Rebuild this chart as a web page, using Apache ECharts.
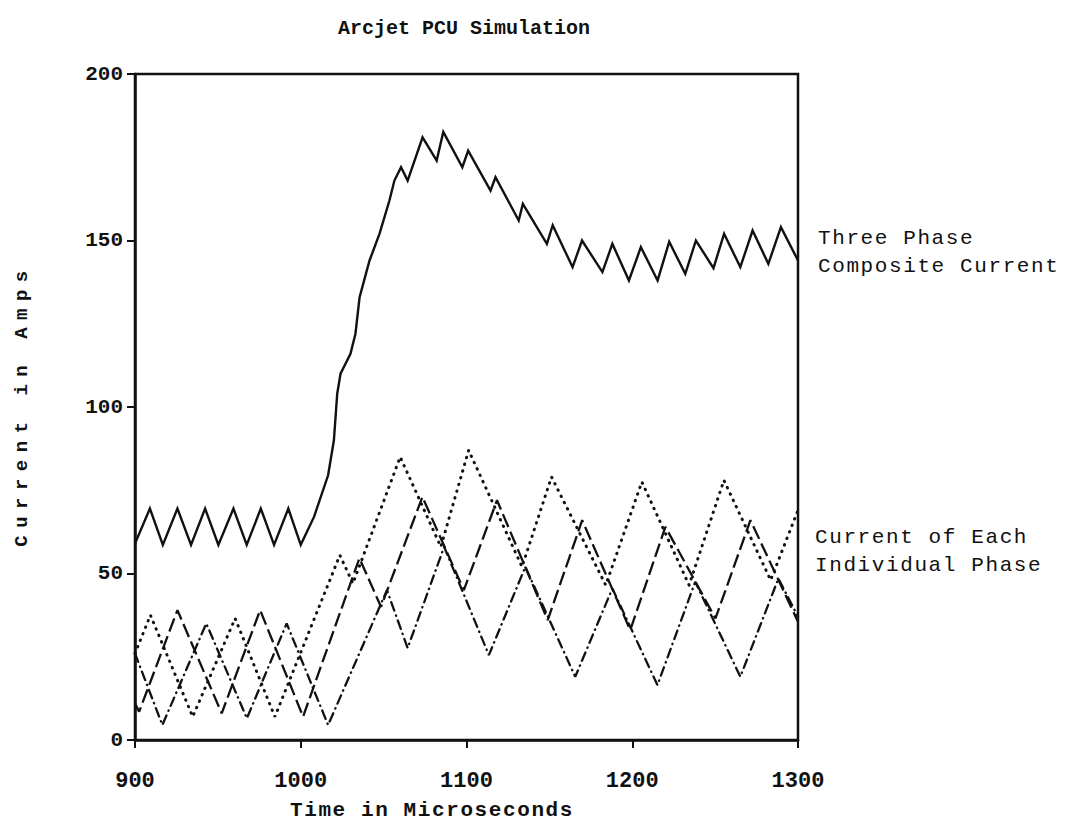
<!DOCTYPE html>
<html><head><meta charset="utf-8">
<script src="https://cdn.jsdelivr.net/npm/echarts@6/dist/echarts.min.js"></script>
<style>html,body{margin:0;padding:0;background:#fff}#main{width:1078px;height:832px}</style>
</head><body><div id="main"></div>
<script>
const chartTitle = 'Arcjet PCU Simulation';
const xAxisTitle = 'Time in Microseconds';
const yAxisTitle = 'Current in Amps';
const compositeLabel = ['Three Phase', 'Composite Current'];
const phaseLabel = ['Current of Each', 'Individual Phase'];
const xTicks = [900, 1000, 1100, 1200, 1300];
const yTicks = [0, 50, 100, 150, 200];

const compositeTime = [900,909,916.8,925.6,933.8,942.3,950.3,959.4,967.4,975.9,983.9,992.5,1000,1008,1016.5,1020,1022,1024,1030,1033,1035.5,1041.5,1047.5,1053.5,1056.5,1060.5,1064.5,1073.5,1082,1086,1097.5,1101,1114.5,1117.5,1131.5,1134,1148.5,1152,1164,1169.7,1182,1188,1198,1205.2,1215.3,1222.3,1232,1238.4,1249,1255.4,1265.2,1272.6,1282.1,1289.7,1300];
const compositeAmps = [59,69.5,58.6,69.5,58.6,69.5,58.6,69.5,58.6,69.5,58.6,69.5,58.6,67,79.5,90,104,110,116,122,133,144,152,162,168,172,168,181,174,182.6,172,177,165,169,156,161,149,154.6,142,150,140.5,149,138,148,138,149.6,140,150,141.7,152,142,153,143,154,144];

const phaseATime = [900,909.3,934.8,960.4,984.4,1023.6,1031.5,1060,1084.5,1101.3,1133.5,1151.3,1184,1205.8,1234.3,1255.3,1283.5,1300];
const phaseAAmps = [26,37.5,7,36.5,7,55.5,47,85,58,87,52,79,46.5,77.5,46.5,78,48,69];

const phaseBTime = [900,902.5,925.6,952.3,975.5,1001.4,1035.4,1048.4,1073.4,1098.4,1118.4,1149,1169.8,1198.8,1220,1250.2,1271.3,1300];
const phaseBAmps = [11,8.5,39,8,39,7,54.6,40,73,45,72,36,66,33,64,36.5,66,35.5];

const phaseCTime = [900,916.5,943,967.5,991.5,1016.5,1052,1064.5,1086.5,1113.5,1135.5,1165.6,1188,1215.2,1238,1265.2,1288.2,1300];
const phaseCAmps = [26,4.5,35,6.5,35,4.5,45,27.6,58,25.5,52,19,45.5,16.5,47.5,19,48.5,37];

const zip = (t, v) => t.map((x, i) => [x, v[i]]);
const INK = '#111';
const MONO = '"Liberation Mono", "DejaVu Sans Mono", monospace';

const chart = echarts.init(document.getElementById('main'), null, {renderer: 'svg'});
chart.setOption({
  animation: false,
  backgroundColor: '#fff',
  grid: {left: 135, right: 280, top: 74, bottom: 92, show: true, borderColor: INK, borderWidth: 2.5, backgroundColor: 'transparent'},
  xAxis: {
    type: 'value', min: xTicks[0], max: xTicks[xTicks.length - 1], interval: xTicks[1] - xTicks[0],
    axisLine: {show: true, onZero: false, lineStyle: {color: INK, width: 2.5}},
    axisTick: {show: true, inside: false, length: 8, lineStyle: {color: INK, width: 2}},
    axisLabel: {color: INK, fontFamily: MONO, fontSize: 22, fontWeight: 'bold', margin: 30, formatter: v => String(v)},
    splitLine: {show: false}
  },
  yAxis: {
    type: 'value', min: yTicks[0], max: yTicks[yTicks.length - 1], interval: yTicks[1] - yTicks[0],
    axisLine: {show: true, lineStyle: {color: INK, width: 2.5}},
    axisTick: {show: true, inside: false, length: 8, lineStyle: {color: INK, width: 2}},
    axisLabel: {color: INK, fontFamily: MONO, fontSize: 21, fontWeight: 'bold', margin: 12, formatter: v => String(v)},
    splitLine: {show: false}
  },
  series: [
    {type: 'line', data: zip(compositeTime, compositeAmps), symbol: 'none', z: 5,
     lineStyle: {color: INK, width: 2.4, type: 'solid', join: 'miter'}},
    {type: 'line', data: zip(phaseATime, phaseAAmps), symbol: 'none', z: 4,
     lineStyle: {color: INK, width: 3, type: [0.5, 6.5], cap: 'round'}},
    {type: 'line', data: zip(phaseBTime, phaseBAmps), symbol: 'none', z: 4,
     lineStyle: {color: INK, width: 2.3, type: [14, 5]}},
    {type: 'line', data: zip(phaseCTime, phaseCAmps), symbol: 'none', z: 4,
     lineStyle: {color: INK, width: 2.3, type: [9, 5, 0.5, 5], cap: 'round'}}
  ],
  graphic: [
    {type: 'text', x: 464, y: 28, style: {text: chartTitle, font: 'bold 20px ' + MONO, fill: INK, textAlign: 'center', textVerticalAlign: 'middle'}},
    {type: 'text', x: 432, y: 810, style: {text: xAxisTitle, font: 'bold 21px ' + MONO, fill: INK, textAlign: 'center', textVerticalAlign: 'middle'}},
    {type: 'text', x: 22, y: 405, rotation: Math.PI / 2, style: {text: yAxisTitle, font: 'bold 19px ' + MONO, fill: INK, textAlign: 'center', textVerticalAlign: 'middle'}},
    {type: 'text', x: 818, y: 238, style: {text: compositeLabel[0], font: '21px ' + MONO, fill: INK, textAlign: 'left', textVerticalAlign: 'middle'}},
    {type: 'text', x: 818, y: 266, style: {text: compositeLabel[1], font: '21px ' + MONO, fill: INK, textAlign: 'left', textVerticalAlign: 'middle'}},
    {type: 'text', x: 815, y: 537, style: {text: phaseLabel[0], font: '21px ' + MONO, fill: INK, textAlign: 'left', textVerticalAlign: 'middle'}},
    {type: 'text', x: 815, y: 565, style: {text: phaseLabel[1], font: '21px ' + MONO, fill: INK, textAlign: 'left', textVerticalAlign: 'middle'}}
  ]
});

const spacing = {};
spacing[yAxisTitle] = '7.5px';
spacing[xAxisTitle] = '1.6px';
spacing[compositeLabel[0]] = '1.6px';
spacing[compositeLabel[1]] = '1.6px';
spacing[phaseLabel[0]] = '1.6px';
spacing[phaseLabel[1]] = '1.6px';
function applySpacing() {
  document.querySelectorAll('#main text').forEach(t => {
    const s = spacing[t.textContent];
    if (s) t.style.letterSpacing = s;
  });
}
applySpacing();
chart.on('finished', applySpacing);
</script>
</body></html>
